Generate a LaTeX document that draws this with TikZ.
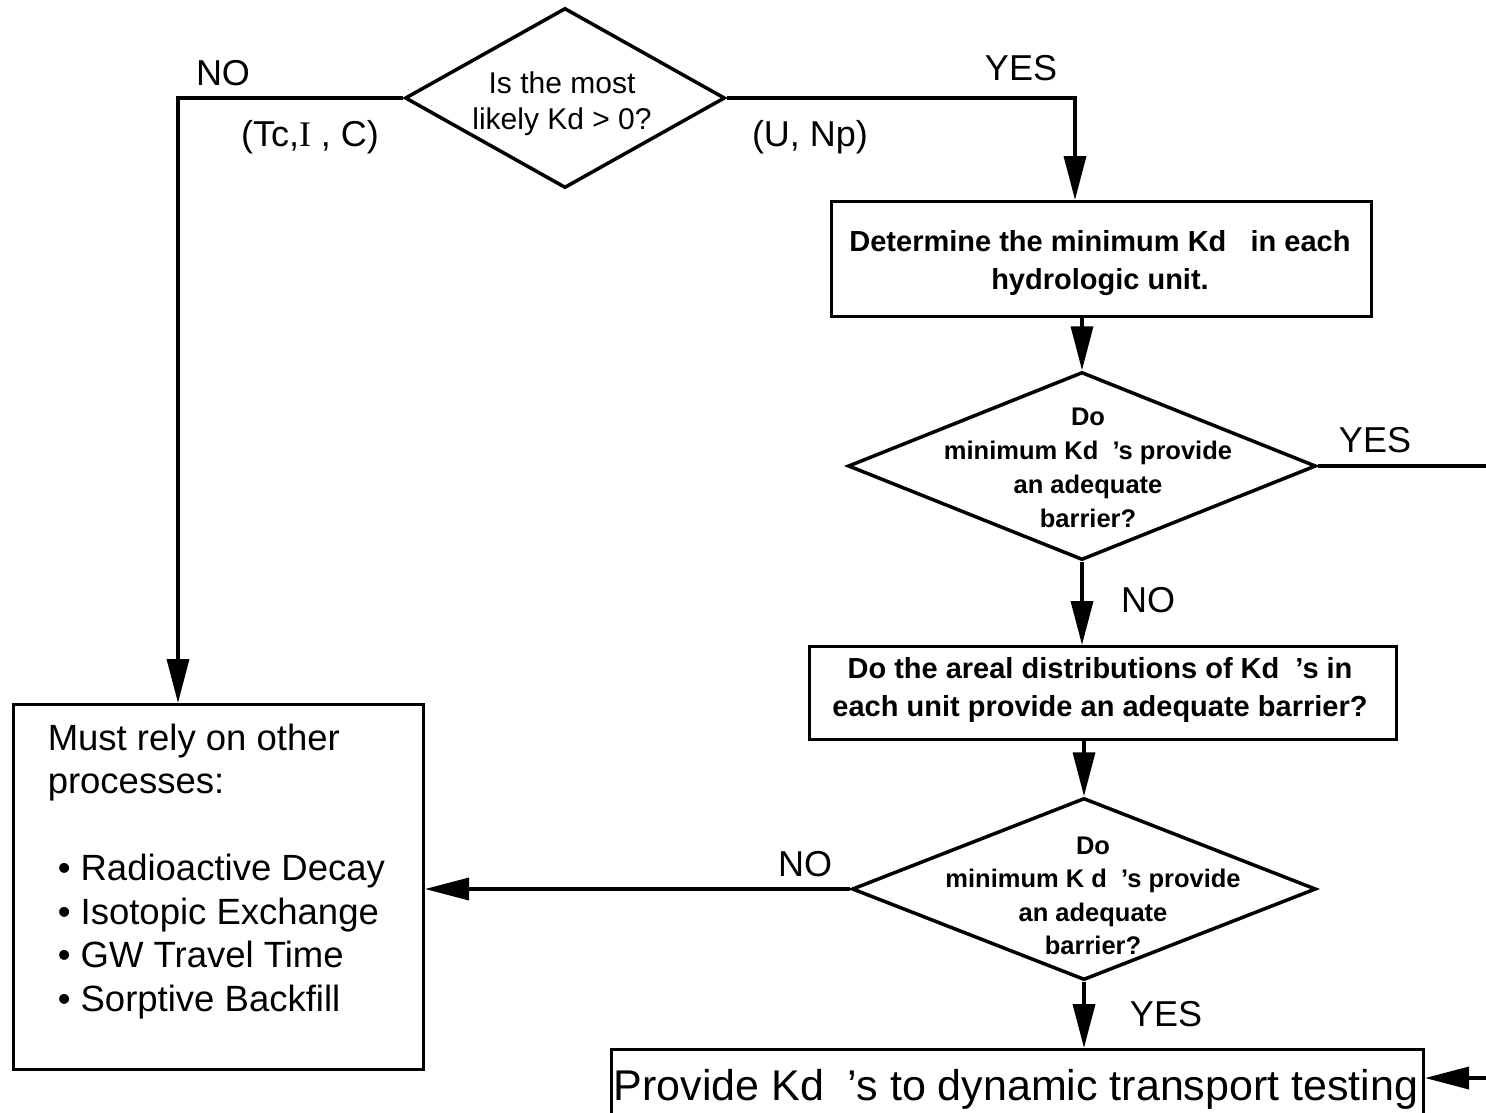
\documentclass[tikz,border=0pt]{standalone}
\usepackage{fontspec}
\setmainfont{Liberation Sans}
\newfontfamily\serifface{Liberation Serif}
\usetikzlibrary{shapes.geometric,arrows.meta}

\begin{document}
\begin{tikzpicture}[x=1pt,y=-1pt,
  line width=3.5pt,
  flow/.style={-{Triangle[length=44pt,width=22pt]}},
  boxnode/.style={draw, rectangle, line width=3pt, inner sep=0pt, anchor=north west},
  decision/.style={draw, diamond, inner sep=0pt, line width=3.5pt},
  lbl/.style={font=\fontsize{36}{40}\selectfont, inner sep=0pt, anchor=base},
  qtext/.style={align=center, inner sep=0pt},
]
\useasboundingbox (0,0) rectangle (1486,1112);
\clip (0,0) rectangle (1486,1112);

% decisions
\node[decision, aspect=1.78, minimum width=320pt, minimum height=180pt] (d1) at (565,98) {};
\node[decision, aspect=2.49, minimum width=468pt, minimum height=188pt] (d2) at (1082,466) {};
\node[decision, aspect=2.55, minimum width=464pt, minimum height=182pt] (d3) at (1084,889) {};

% boxes
\node[boxnode, minimum width=410pt, minimum height=365pt] (b1) at (12,703) {};
\node[boxnode, minimum width=540pt, minimum height=115pt] (b2) at (830,200) {};
\node[boxnode, minimum width=587pt, minimum height=93pt] (b3) at (808,645) {};
\node[boxnode, minimum width=812pt, minimum height=120pt] (b5) at (610,1048) {};

% texts
\node[qtext, font=\fontsize{30}{36}\selectfont] (d1t) at (562,104) {Is the most\\likely Kd > 0?};
\node[qtext, font=\fontsize{25.5}{34}\selectfont\bfseries] (d2t) at (1088,468)
  {Do\\minimum Kd\ \ 's provide\\an adequate\\barrier?};
\node[qtext, font=\fontsize{25.5}{33.5}\selectfont\bfseries] (d3t) at (1093,896)
  {Do\\minimum K d\ \ 's provide\\an adequate\\barrier?};
\node[qtext, font=\fontsize{29}{38}\selectfont\bfseries] (b2t) at (1100,263)
  {Determine the minimum Kd\ \ \ in each\\hydrologic unit.};
\node[qtext, font=\fontsize{29}{38}\selectfont\bfseries] (b3t) at (1100,690)
  {Do the areal distributions of Kd\ \ 's in\\each unit provide an adequate barrier?};
\node[align=left, inner sep=0pt, anchor=north west, font=\fontsize{36.5}{43.5}\selectfont] (b1t) at (46,722)
  {Must rely on other\\processes:\\[43.5pt]
   \hspace*{10pt}\textbullet\ Radioactive Decay\\
   \hspace*{10pt}\textbullet\ Isotopic Exchange\\
   \hspace*{10pt}\textbullet\ GW Travel Time\\
   \hspace*{10pt}\textbullet\ Sorptive Backfill};
\node[inner sep=0pt, anchor=base, font=\fontsize{43}{50}\selectfont] (b5t) at (1016,1100)
  {Provide Kd\ \ 's to dynamic transport testing};

% branch labels
\node[lbl] (noA) at (223,85) {NO};
\node[lbl] (tci) at (310,146) {(Tc,{\serifface I} , C)};
\node[lbl] (yesA) at (1021,80) {YES};
\node[lbl] (unp) at (810,146) {(U, Np)};
\node[lbl] (yesB) at (1375,452) {YES};
\node[lbl] (noB) at (1148,612) {NO};
\node[lbl] (noC) at (805,876) {NO};
\node[lbl] (yesC) at (1166,1026) {YES};

% free ends at the right rim
\coordinate (rimA) at (1490,466);
\coordinate (rimB) at (1490,1078);

% connectors
\draw[flow] (d1.west) -| ([xshift=166pt]b1.north west);
\draw[flow] (d1.east) -| ([xshift=245pt]b2.north west);
\draw[flow] (d2.north |- b2.south) -- (d2.north);
\draw (d2.east) -- (rimA);
\draw[flow] (d2.south) -- (d2.south |- b3.north);
\draw[flow] (d3.north |- b3.south) -- (d3.north);
\draw[flow] (d3.west) -- (d3.west -| b1.east);
\draw[flow] (d3.south) -- (d3.south |- b5.north);
\draw[flow] (rimB) -- (rimB -| b5.east);
\end{tikzpicture}
\end{document}
